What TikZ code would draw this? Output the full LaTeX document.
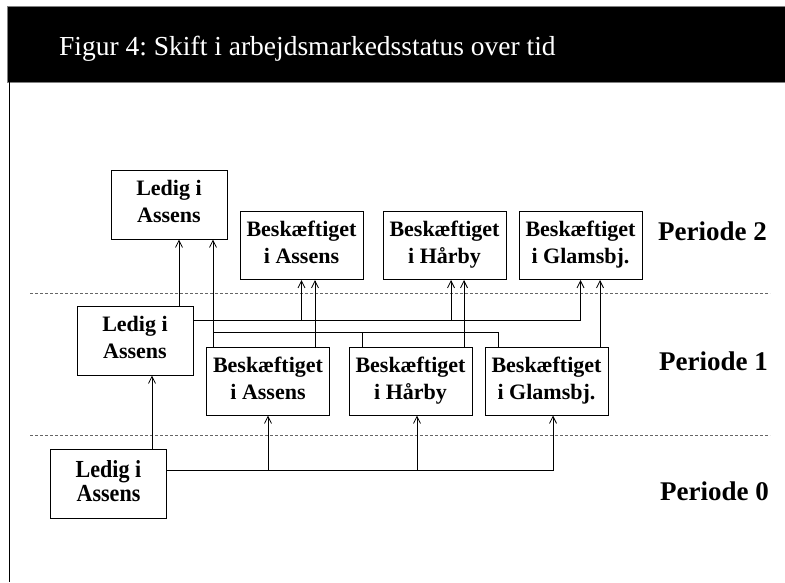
\documentclass[tikz,border=0pt]{standalone}
\usepackage{fontspec}
\setmainfont{Liberation Serif}
\newfontfamily\kassefont[FakeStretch=0.9]{Liberation Serif}
\newcommand\kstrut{\vrule height 21pt depth 6pt width 0pt}
\usetikzlibrary{arrows.meta}
\frenchspacing
\begin{document}
\begin{tikzpicture}[x=1pt,y=-1pt,line join=miter,
  box/.style={draw=black,line width=1pt,inner sep=0pt,align=center,font=\bfseries\fontsize{22}{27}\selectfont,
    execute at begin node=\kstrut,execute at end node=\kstrut},
  ledig/.style={box,minimum width=116pt,minimum height=69pt},
  besk/.style={box,minimum width=123pt,minimum height=68pt},
  smal/.style={font=\kassefont\bfseries\fontsize{24.5}{24}\selectfont},
  arr/.style={-{Straight Barb[length=7pt,width=7pt]},line width=.8pt},
  lin/.style={line width=.8pt},
  per/.style={anchor=base west,inner sep=0pt,font=\bfseries\fontsize{27}{30}\selectfont},
  skille/.style={dash pattern=on 3pt off 2pt,draw=black!60,line width=.9pt}]
\useasboundingbox (0,0) rectangle (785,582);
\filldraw[fill=black,draw=black!50,line width=.6pt] (7,6) rectangle (785,82);
\draw[line width=1.6pt] (9.5,82) -- (9.5,582);
\node[anchor=base west,inner sep=0pt,text=white,font=\fontsize{27.5}{30}\selectfont] (titel) at (59,55) {Figur 4: Skift i arbejdsmarkedsstatus over tid};
\draw[skille] (30,293) -- (770,293);
\draw[skille] (30,435) -- (770,435);
\node[ledig] (l2) at (169,204.5) {Ledig i\\Assens};
\node[besk] (a2) at (301.5,245.5) {Beskæftiget\\i Assens};
\node[besk] (h2) at (444.5,245.5) {Beskæftiget\\i Hårby};
\node[besk] (g2) at (580.5,245.5) {Beskæftiget\\i Glamsbj.};
\node[ledig] (l1) at (135,340.5) {Ledig i\\Assens};
\node[besk] (a1) at (268,381) {Beskæftiget\\i Assens};
\node[besk] (h1) at (410.5,381) {Beskæftiget\\i Hårby};
\node[besk] (g1) at (546.5,381) {Beskæftiget\\i Glamsbj.};
\node[ledig,smal] (l0) at (108.5,483.5) {Ledig i\\Assens};
\node[per] (p2) at (658,240) {Periode 2};
\node[per] (p1) at (659,370) {Periode 1};
\node[per] (p0) at (660,500) {Periode 0};
\coordinate (bus0) at ([yshift=13.5]l0.east);
\coordinate (bus1) at ([yshift=20.5]l1.east);
\coordinate (h1ind) at ([xshift=6.5]h1.south);
\coordinate (h2ind) at ([xshift=6.5]h2.south);
\draw[arr] ([xshift=43.5]l0.north) -- ([xshift=17]l1.south);
\draw[arr] (bus0) -| ([xshift=6.5]g1.south);
\draw[arr] (bus0 -| a1.south) -- (a1.south);
\draw[arr] (bus0 -| h1ind) -- (h1ind);
\draw[arr] ([xshift=44]l1.north) -- ([xshift=10]l2.south);
\draw[arr] (bus1) -| (g2.south);
\draw[arr] (bus1 -| a2.south) -- (a2.south);
\draw[arr] (bus1 -| h2ind) -- (h2ind);
\draw[arr] ([xshift=-55]a1.north) -- ([xshift=44]l2.south);
\draw[lin] ([xshift=-48.5]g1.north) |- ([xshift=-55,yshift=14]a1.north);
\draw[lin] ([xshift=-48.5]h1.north) -- ++(0,-14);
\draw[arr] ([xshift=47]a1.north) -- ([xshift=13.5]a2.south);
\draw[arr] ([xshift=53.5]h1.north) -- ([xshift=19.5]h2.south);
\draw[arr] ([xshift=53.5]g1.north) -- ([xshift=19.5]g2.south);
\end{tikzpicture}
\end{document}
